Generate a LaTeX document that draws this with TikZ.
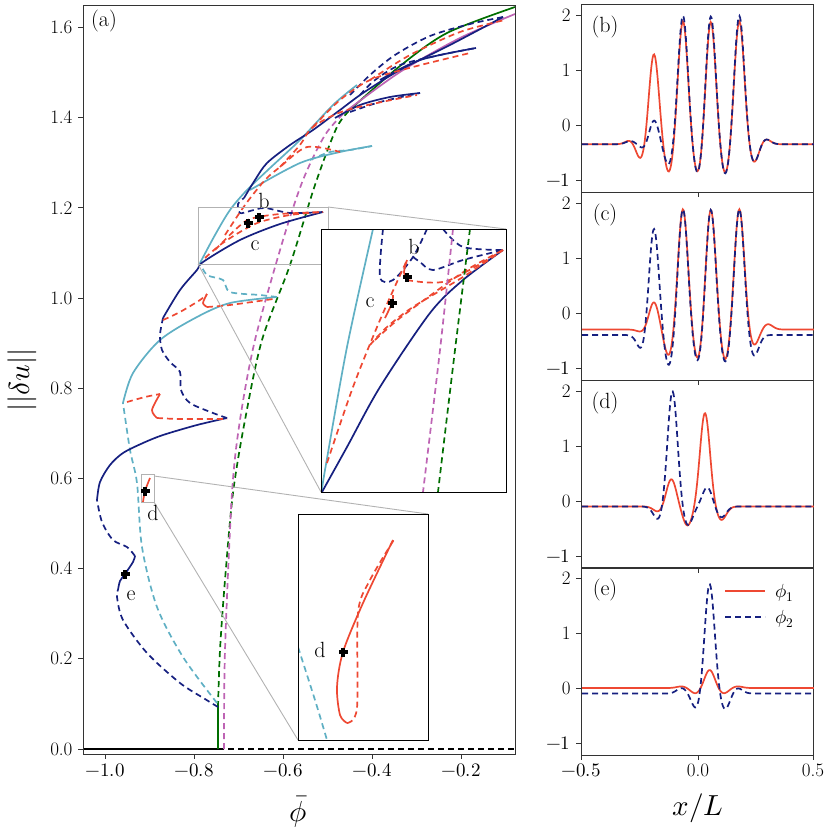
\documentclass[tikz,border=0pt]{standalone}
\usepackage{amsmath}
\usepackage{fontspec}
\usepackage{unicode-math}
\definecolor{rd}{RGB}{238,72,50}
\definecolor{nv}{RGB}{22,32,128}
\definecolor{cy}{RGB}{96,176,196}
\definecolor{gr}{RGB}{0,110,0}
\definecolor{mg}{RGB}{190,100,180}
\tikzset{
 lw/.style={line width=1.7pt},
 dsh/.style={dash pattern=on 6pt off 4pt},
 nvs/.style={lw,nv},nvd/.style={lw,nv,dsh},
 rds/.style={lw,rd},rdd/.style={lw,rd,dsh},
 cys/.style={lw,cy},cyd/.style={lw,cy,dsh},
 grs/.style={lw,gr},grd/.style={lw,gr,dsh},
 mgs/.style={lw,mg},mgd/.style={lw,mg,dsh},
 zoombox/.style={draw=black!30,line width=0.9pt},
 frame/.style={draw=black!80,line width=0.9pt},
 tick/.style={font=\fontsize{19}{22}\selectfont},
 lbl/.style={font=\fontsize{22}{24}\selectfont},
 mk/.pic={\fill (-4.5,-1.7) rectangle (4.5,1.7); \fill (-1.7,-4.5) rectangle (1.7,4.5);},
 declare function={gs(\x,\c,\a)=\a*exp(-((\x-\c)/0.03)^2);}
}
\begin{document}
\begin{tikzpicture}[x=1pt,y=-1pt]
\useasboundingbox (0,0) rectangle (830,830);
% ---------------- panel (a)
\begin{scope}
\clip (83,5) rectangle (515,754);
\draw[lw,black] (83,749) -- (218,749);
\draw[lw,black,dsh] (218,749) -- (515,749);
\draw[grs] (218,749) -- (218,707);
\draw[grd] plot[smooth] coordinates {(218,707)(220,650)(225,580)(233,493)(245,420)(262,340)(290,265)(315,185)(337,127)(353,107)};
\draw[grs] plot[smooth] coordinates {(353,107)(400,66)(447,33)(515,7)};
\draw[mgd] plot[smooth] coordinates {(224,749)(225,650)(232,493)(240,420)(255,340)(283,240)(303,180)(325,135)(345,112)};
\draw[mgs] plot[smooth] coordinates {(345,112)(400,72)(460,38)(515,14)};
\draw[cyd] plot[smooth] coordinates {(217,703)(183,657)(157,607)(142,547)(137,483)(130,450)(123,403)};
\draw[cys] plot[smooth] coordinates {(123,403)(133,373)(160,340)(197,317)(230,303)(277,297)};
\draw[cyd] plot[smooth] coordinates {(277,297)(260,295)(230,292)(223,280)(207,275)(200,263)};
\draw[cys] plot[smooth] coordinates {(200,263)(215,235)(230,210)(247,190)(270,168)(300,140)(333,105)(357,85)};
\draw[cys] plot[smooth] coordinates {(250,190)(300,163)(340,152)(372,146)};
\draw[cyd] plot[smooth] coordinates {(310,160)(330,152)(350,150)(372,146)};
\draw[nvd] plot[smooth] coordinates {(218,707)(205,699)(180,683)(147,653)(123,620)(117,597)(118,590)};
\draw[nvs] plot[smooth] coordinates {(118,590)(120,581)(125,574)(133,562)(135,556)};
\draw[nvd] plot[smooth] coordinates {(135,556)(127,547)(113,540)(102,522)(97,500)};
\draw[nvs] plot[smooth] coordinates {(97,500)(100,482)(110,465)(123,453)(143,443)(163,435)(197,425)(227,418)};
\draw[nvd] plot[smooth] coordinates {(227,418)(213,413)(190,403)(181,390)(180,372)(170,362)(162,350)(160,335)(163,318)};
\draw[nvs] plot[smooth] coordinates {(163,318)(180,290)(197,270)(203,262)(240,240)(280,224)(323,212)};
\draw[nvd] plot[smooth] coordinates {(323,212)(290,213)(265,208)(250,211)(240,213)(238,204)(244,198)};
\draw[nvs] plot[smooth] coordinates {(244,198)(255,180)(267,163)(290,145)(313,130)(340,110)(363,93)(400,70)(450,45)(503,17)};
\draw[nvd] plot[smooth] coordinates {(503,17)(470,24)(430,36)(395,55)(370,75)(350,95)};
\draw[nvs] plot[smooth] coordinates {(335,118)(360,105)(390,97)(420,93)};
\draw[nvd] plot[smooth] coordinates {(350,112)(380,102)(420,93)};
\draw[nvd] plot[smooth] coordinates {(360,95)(375,80)(400,65)(440,55)(476,48)};
\draw[nvs] plot[smooth] coordinates {(380,80)(420,60)(476,48)};
\draw[rdd] plot[smooth] coordinates {(163,320)(180,312)(200,300)(207,294)};
\draw[rds] plot[smooth] coordinates {(207,294)(203,303)(207,307)};
\draw[rdd] plot[smooth] coordinates {(207,307)(230,305)(273,299)};
\draw[rdd] plot[smooth] coordinates {(127,402)(145,397)(160,394)};
\draw[rds] plot[smooth] coordinates {(160,394)(152,410)(157,418)};
\draw[rdd] plot[smooth] coordinates {(157,418)(180,419)(227,419)};
\draw[rds] plot[smooth] coordinates {(143,502)(145,491)(150,478)};
\draw[rdd] plot[smooth] coordinates {(205,258)(220,245)(240,232)(260,222)(290,215)(323,212)};
\draw[rdd] plot[smooth] coordinates {(215,250)(235,230)(250,219)(280,214)(323,212)};
\draw[rdd] plot[smooth] coordinates {(225,235)(245,205)(265,180)(280,167)(307,147)(340,152)};
\draw[rdd] plot[smooth] coordinates {(280,167)(300,145)(313,127)(347,110)(417,95)};
\draw[rdd] plot[smooth] coordinates {(313,127)(340,100)(370,80)(413,67)(470,53)};
\draw[rdd] plot[smooth] coordinates {(370,80)(410,55)(460,32)(505,20)};
\draw[zoombox] (198,207) rectangle (328,264);
\draw[zoombox] (328,207) -- (506,229);
\draw[zoombox] (198,264) -- (321,492);
\draw[zoombox] (141,474) rectangle (154,502);
\draw[zoombox] (154,476) -- (428,514);
\draw[zoombox] (154,502) -- (298,740);
\pic at (248,223) {mk};
\pic at (259,217) {mk};
\pic at (145,491) {mk};
\pic at (125,574) {mk};
\end{scope}
\node[lbl] (lb) at (264,201) {b};
\node[lbl] (lc) at (255,246) {c};
\node[lbl] (ld) at (153,513) {d};
\node[lbl] (le) at (131,596) {e};
% inset 1
\fill[white] (321,229) rectangle (506,492);
\begin{scope}
\clip (321,229) rectangle (506,492);
\draw[cys] plot[smooth] coordinates {(322,490)(325,470)(347,347)(373,229)};
\draw[nvs] plot[smooth] coordinates {(322,492)(347,447)(380,387)(430,313)(463,280)(503,250)};
\draw[nvd] plot[smooth] coordinates {(383,229)(380,277)(393,280)(413,257)(427,229)};
\draw[nvd] plot[smooth] coordinates {(413,257)(420,262)(433,270)(463,260)(503,250)};
\draw[nvd] plot[smooth] coordinates {(443,229)(463,247)(503,250)};
\draw[rdd] plot[smooth] coordinates {(327,463)(353,387)(380,320)(407,260)};
\draw[rds] plot[smooth] coordinates {(407,260)(404,272)(407,280)};
\draw[rdd] plot[smooth] coordinates {(407,280)(447,281)(503,250)};
\draw[rdd] plot[smooth] coordinates {(370,345)(387,327)(413,307)(463,277)(503,250)};
\draw[rdd] plot[smooth] coordinates {(375,340)(395,322)(420,303)(465,271)(503,250)};
\draw[rds] plot[smooth] coordinates {(385,318)(392,303)(393,295)};
\draw[mgd] plot[smooth] coordinates {(453,229)(440,350)(423,492)};
\draw[grd] plot[smooth] coordinates {(470,229)(455,350)(438,492)};
\pic at (407,277) {mk};
\pic at (392,303) {mk};
\end{scope}
\draw[frame,black] (321,229) rectangle (506,492);
\node[lbl] (ib) at (414,247) {b};
\node[lbl] (ic) at (370,303) {c};
% inset 2
\fill[white] (298,514) rectangle (428,740);
\begin{scope}
\clip (298,514) rectangle (428,740);
\draw[cyd] plot[smooth] coordinates {(298,647)(315,700)(327,740)};
\draw[rds] plot[smooth] coordinates {(393,540)(363,603)(343,652)(337,687)(340,715)(347,723)};
\draw[rdd] plot[smooth] coordinates {(347,723)(357,708)(358,613)(370,580)(395,538)};
\pic at (343,652) {mk};
\end{scope}
\draw[frame,black] (298,514) rectangle (428,740);
\node[lbl] (id) at (320,650) {d};
% frame & ticks (a)
\draw[frame] (83,5) rectangle (515,754);
\foreach \v/\l in {0/0.0,1/0.2,2/0.4,3/0.6,4/0.8,5/1.0,6/1.2,7/1.4,8/1.6}{
 \draw[frame] (83,749-90.2*\v) -- (78,749-90.2*\v);
 \node[tick,anchor=east] at (76,749-90.2*\v) {\l};}
\foreach \v/\l in {0/$-1.0$,1/$-0.8$,2/$-0.6$,3/$-0.4$,4/$-0.2$}{
 \draw[frame] (105+89*\v,754) -- (105+89*\v,759);
 \node[tick,anchor=north] at (105+89*\v,760) {\l};}
\node[lbl] (pa) at (104,21) {(a)};
\node[font=\fontsize{29}{30}\selectfont,rotate=90] (ya) at (22,380) {$||\delta u||$};
\node[font=\fontsize{29}{30}\selectfont] (xa) at (298,812) {$\bar{\phi}$};
% ---------------- right panels
\foreach \t/\lab in {4/b,192/c,380/d,567/e}{
 \draw[frame] (581,\t) rectangle (813,\t+188);
 \foreach \v/\l in {2/2,1/1,0/0,-1/$-1$}{
  \draw[frame] (581,\t+121-55*\v) -- (576,\t+121-55*\v);
  \node[tick,anchor=east] at (574,\t+121-55*\v) {\l};}
 \foreach \xx in {581,698,813}{\draw[frame] (\xx,\t+188) -- (\xx,\t+193);}
 \node[lbl] at (605,\t+23) {(\lab)};
}
\foreach \xx/\l in {581/$-0.5$,698/0.0,813/0.5}{\node[tick,anchor=north] at (\xx,760) {\l};}
\node[font=\fontsize{29}{30}\selectfont] (xl) at (698,808) {$x/L$};
\draw[rds] plot[domain=-0.5:0.5,samples=300,smooth] ({698+232*\x},{125-55*(-0.35+gs(\x,-0.29,0.08)+gs(\x,-0.245,-0.3)+gs(\x,-0.19,1.65)+gs(\x,-0.125,-0.55)+gs(\x,-0.065,2.25)+gs(\x,0,-0.58)+gs(\x,0.055,2.25)+gs(\x,0.118,-0.58)+gs(\x,0.178,2.25)+gs(\x,0.24,-0.35)+gs(\x,0.29,0.1))});
\draw[nvd] plot[domain=-0.5:0.5,samples=300,smooth] ({698+232*\x},{125-55*(-0.35+gs(\x,-0.29,0.06)+gs(\x,-0.23,-0.1)+gs(\x,-0.19,0.45)+gs(\x,-0.125,-0.4)+gs(\x,-0.065,2.35)+gs(\x,0,-0.6)+gs(\x,0.055,2.35)+gs(\x,0.118,-0.6)+gs(\x,0.178,2.35)+gs(\x,0.24,-0.35)+gs(\x,0.29,0.1))});
\draw[rds] plot[domain=-0.5:0.5,samples=300,smooth] ({698+232*\x},{313-55*(-0.3+gs(\x,-0.24,-0.05)+gs(\x,-0.19,0.5)+gs(\x,-0.125,-0.5)+gs(\x,-0.065,2.2)+gs(\x,0,-0.6)+gs(\x,0.055,2.2)+gs(\x,0.118,-0.6)+gs(\x,0.178,2.2)+gs(\x,0.24,-0.3)+gs(\x,0.3,0.1))});
\draw[nvd] plot[domain=-0.5:0.5,samples=300,smooth] ({698+232*\x},{313-55*(-0.4+gs(\x,-0.24,-0.3)+gs(\x,-0.19,1.95)+gs(\x,-0.125,-0.6)+gs(\x,-0.065,2.3)+gs(\x,0,-0.55)+gs(\x,0.055,2.3)+gs(\x,0.118,-0.55)+gs(\x,0.178,2.3)+gs(\x,0.24,-0.4))});
\draw[rds] plot[domain=-0.5:0.5,samples=300,smooth] ({698+232*\x},{501-55*(-0.1+gs(\x,-0.17,-0.1)+gs(\x,-0.115,0.5)+gs(\x,-0.045,-0.35)+gs(\x,0.03,1.7)+gs(\x,0.1,-0.25))});
\draw[nvd] plot[domain=-0.5:0.5,samples=300,smooth] ({698+232*\x},{501-55*(-0.1+gs(\x,-0.17,-0.25)+gs(\x,-0.11,2.1)+gs(\x,-0.045,-0.35)+gs(\x,0.04,0.35)+gs(\x,0.1,-0.2))});
\draw[rds] plot[domain=-0.5:0.5,samples=300,smooth] ({698+232*\x},{688-55*(0+gs(\x,-0.07,0.03)+gs(\x,-0.01,-0.1)+gs(\x,0.05,0.33)+gs(\x,0.11,-0.1)+gs(\x,0.17,0.03))});
\draw[nvd] plot[domain=-0.5:0.5,samples=300,smooth] ({698+232*\x},{688-55*(-0.1+gs(\x,-0.07,0.1)+gs(\x,-0.005,-0.3)+gs(\x,0.05,2.0)+gs(\x,0.115,-0.3)+gs(\x,0.17,0.1))});
\coordinate (l1a) at (725,591); \coordinate (l1b) at (765,591);
\coordinate (l2a) at (725,617); \coordinate (l2b) at (765,617);
\draw[rds] (l1a) -- (l1b);
\draw[nvd] (l2a) -- (l2b);
\node[font=\fontsize{19}{20}\selectfont,anchor=west] (p1) at (772,593) {$\phi_1$};
\node[font=\fontsize{19}{20}\selectfont,anchor=west] (p2) at (772,619) {$\phi_2$};
\end{tikzpicture}
\end{document}
